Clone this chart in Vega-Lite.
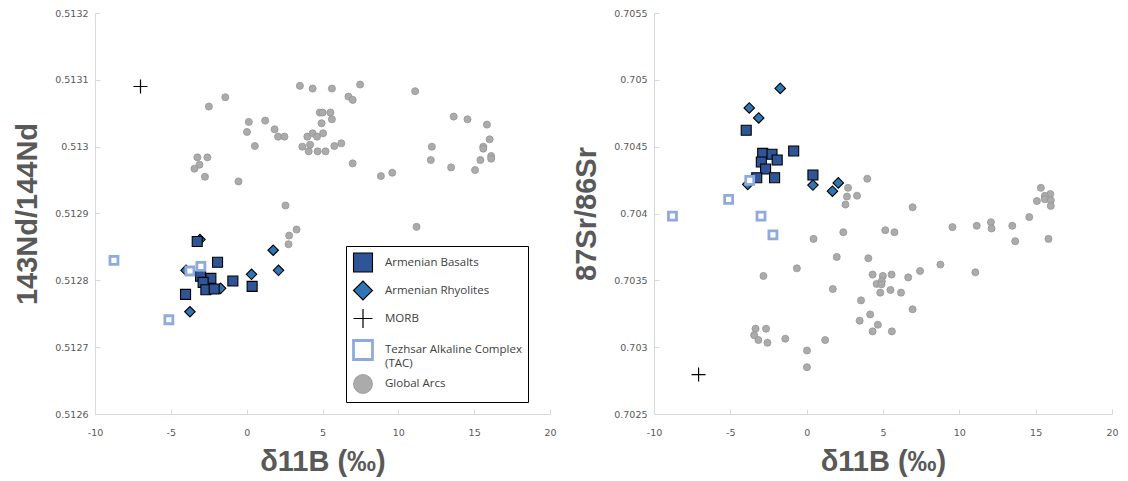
{
  "$schema": "https://vega.github.io/schema/vega-lite/v6.json",
  "padding": {"left": 13, "top": 8, "right": 5, "bottom": 5},
  "background": "white",
  "spacing": 104,
  "bounds": "flush",
  "resolve": {
    "scale": {"shape": "independent", "fill": "independent", "stroke": "independent", "strokeWidth": "independent", "size": "independent"},
    "legend": {"shape": "independent", "fill": "independent", "stroke": "independent", "strokeWidth": "independent", "size": "independent"}
  },
  "config": {
    "view": {"stroke": null},
    "axis": {
      "grid": false,
      "domainColor": "#D9D9D9",
      "domainWidth": 1,
      "tickColor": "#D9D9D9",
      "tickSize": -5,
      "labelFont": "DejaVu Sans",
      "labelFontSize": 9.5,
      "labelColor": "#595959",
      "labelPadding": 12,
      "labelFlush": false,
      "titleFont": "Liberation Sans",
      "titleFontWeight": "bold",
      "titleFontSize": 29,
      "titleColor": "#595959"
    },
    "axisX": {"labelPadding": 18, "titlePadding": 11}
  },
  "datasets": {
    "nd": [
      {"g": "Global Arcs", "b": -2.49, "r": 0.51306},
      {"g": "Global Arcs", "b": -1.41, "r": 0.513074},
      {"g": "Global Arcs", "b": 3.51, "r": 0.513091},
      {"g": "Global Arcs", "b": 4.35, "r": 0.513087},
      {"g": "Global Arcs", "b": 5.62, "r": 0.513087},
      {"g": "Global Arcs", "b": 7.48, "r": 0.513093},
      {"g": "Global Arcs", "b": 6.71, "r": 0.513075},
      {"g": "Global Arcs", "b": 6.99, "r": 0.51307},
      {"g": "Global Arcs", "b": 11.11, "r": 0.513083},
      {"g": "Global Arcs", "b": 0.14, "r": 0.513037},
      {"g": "Global Arcs", "b": 1.22, "r": 0.513039},
      {"g": "Global Arcs", "b": 0.02, "r": 0.513022},
      {"g": "Global Arcs", "b": 1.84, "r": 0.513026},
      {"g": "Global Arcs", "b": 2.07, "r": 0.513015},
      {"g": "Global Arcs", "b": 2.49, "r": 0.513015},
      {"g": "Global Arcs", "b": 0.54, "r": 0.513001},
      {"g": "Global Arcs", "b": 4.82, "r": 0.513051},
      {"g": "Global Arcs", "b": 5.01, "r": 0.513051},
      {"g": "Global Arcs", "b": 5.52, "r": 0.513051},
      {"g": "Global Arcs", "b": 5.62, "r": 0.513041},
      {"g": "Global Arcs", "b": 4.94, "r": 0.513035},
      {"g": "Global Arcs", "b": 4.0, "r": 0.513015},
      {"g": "Global Arcs", "b": 4.35, "r": 0.51302},
      {"g": "Global Arcs", "b": 4.64, "r": 0.513015},
      {"g": "Global Arcs", "b": 5.04, "r": 0.51302},
      {"g": "Global Arcs", "b": 4.18, "r": 0.513003},
      {"g": "Global Arcs", "b": 3.67, "r": 0.5130},
      {"g": "Global Arcs", "b": 4.09, "r": 0.512993},
      {"g": "Global Arcs", "b": 4.68, "r": 0.512993},
      {"g": "Global Arcs", "b": 5.2, "r": 0.512993},
      {"g": "Global Arcs", "b": 5.78, "r": 0.513001},
      {"g": "Global Arcs", "b": 6.24, "r": 0.513005},
      {"g": "Global Arcs", "b": 6.99, "r": 0.512975},
      {"g": "Global Arcs", "b": 8.85, "r": 0.512956},
      {"g": "Global Arcs", "b": 9.6, "r": 0.512961},
      {"g": "Global Arcs", "b": 12.21, "r": 0.5130},
      {"g": "Global Arcs", "b": 12.14, "r": 0.51298},
      {"g": "Global Arcs", "b": 13.48, "r": 0.512969},
      {"g": "Global Arcs", "b": 13.65, "r": 0.513045},
      {"g": "Global Arcs", "b": 14.56, "r": 0.513041},
      {"g": "Global Arcs", "b": 15.84, "r": 0.513033},
      {"g": "Global Arcs", "b": 16.02, "r": 0.513011},
      {"g": "Global Arcs", "b": 15.6, "r": 0.5130},
      {"g": "Global Arcs", "b": 15.6, "r": 0.512997},
      {"g": "Global Arcs", "b": 15.41, "r": 0.51298},
      {"g": "Global Arcs", "b": 15.06, "r": 0.512965},
      {"g": "Global Arcs", "b": 16.12, "r": 0.512986},
      {"g": "Global Arcs", "b": 16.12, "r": 0.512982},
      {"g": "Global Arcs", "b": -3.25, "r": 0.512984},
      {"g": "Global Arcs", "b": -2.59, "r": 0.512984},
      {"g": "Global Arcs", "b": -3.11, "r": 0.512973},
      {"g": "Global Arcs", "b": -3.44, "r": 0.512967},
      {"g": "Global Arcs", "b": -2.75, "r": 0.512955},
      {"g": "Global Arcs", "b": -0.54, "r": 0.512948},
      {"g": "Global Arcs", "b": 2.56, "r": 0.512912},
      {"g": "Global Arcs", "b": 3.29, "r": 0.512876},
      {"g": "Global Arcs", "b": 2.8, "r": 0.512867},
      {"g": "Global Arcs", "b": 2.76, "r": 0.512854},
      {"g": "Global Arcs", "b": 11.2, "r": 0.51288},
      {"g": "Armenian Rhyolites", "b": -3.08, "r": 0.512861},
      {"g": "Armenian Rhyolites", "b": 1.75, "r": 0.512845},
      {"g": "Armenian Rhyolites", "b": 2.1, "r": 0.512815},
      {"g": "Armenian Rhyolites", "b": 0.32, "r": 0.512809},
      {"g": "Armenian Rhyolites", "b": -1.72, "r": 0.512788},
      {"g": "Armenian Rhyolites", "b": -3.74, "r": 0.512753},
      {"g": "Armenian Rhyolites", "b": -4.0, "r": 0.512815},
      {"g": "Armenian Basalts", "b": -3.26, "r": 0.512858},
      {"g": "Armenian Basalts", "b": -1.92, "r": 0.512827},
      {"g": "Armenian Basalts", "b": -3.04, "r": 0.512806},
      {"g": "Armenian Basalts", "b": -2.36, "r": 0.512803},
      {"g": "Armenian Basalts", "b": -2.87, "r": 0.512797},
      {"g": "Armenian Basalts", "b": -2.69, "r": 0.512786},
      {"g": "Armenian Basalts", "b": -2.14, "r": 0.512787},
      {"g": "Armenian Basalts", "b": -0.91, "r": 0.512799},
      {"g": "Armenian Basalts", "b": 0.36, "r": 0.512791},
      {"g": "Armenian Basalts", "b": -4.03, "r": 0.512779},
      {"g": "Tezhsar Alkaline Complex (TAC)", "b": -8.75, "r": 0.51283},
      {"g": "Tezhsar Alkaline Complex (TAC)", "b": -5.13, "r": 0.512741},
      {"g": "Tezhsar Alkaline Complex (TAC)", "b": -3.74, "r": 0.512814},
      {"g": "Tezhsar Alkaline Complex (TAC)", "b": -3.02, "r": 0.512821},
      {"g": "MORB", "b": -7.0, "r": 0.51309}
    ],
    "sr": [
      {"g": "Global Arcs", "b": 3.97, "r": 0.70426},
      {"g": "Global Arcs", "b": 2.71, "r": 0.704192},
      {"g": "Global Arcs", "b": 2.64, "r": 0.704127},
      {"g": "Global Arcs", "b": 2.54, "r": 0.704067},
      {"g": "Global Arcs", "b": 3.3, "r": 0.704133},
      {"g": "Global Arcs", "b": 6.94, "r": 0.704047},
      {"g": "Global Arcs", "b": 15.34, "r": 0.704192},
      {"g": "Global Arcs", "b": 15.96, "r": 0.704145},
      {"g": "Global Arcs", "b": 15.6, "r": 0.704132},
      {"g": "Global Arcs", "b": 15.6, "r": 0.704107},
      {"g": "Global Arcs", "b": 15.08, "r": 0.704093},
      {"g": "Global Arcs", "b": 15.99, "r": 0.704098},
      {"g": "Global Arcs", "b": 15.99, "r": 0.704057},
      {"g": "Global Arcs", "b": 14.58, "r": 0.703973},
      {"g": "Global Arcs", "b": 9.55, "r": 0.703898},
      {"g": "Global Arcs", "b": 11.14, "r": 0.703908},
      {"g": "Global Arcs", "b": 12.07, "r": 0.703935},
      {"g": "Global Arcs", "b": 12.11, "r": 0.703888},
      {"g": "Global Arcs", "b": 13.47, "r": 0.703908},
      {"g": "Global Arcs", "b": 13.66, "r": 0.703793},
      {"g": "Global Arcs", "b": 15.84, "r": 0.70381},
      {"g": "Global Arcs", "b": 5.15, "r": 0.703875},
      {"g": "Global Arcs", "b": 5.75, "r": 0.70386},
      {"g": "Global Arcs", "b": 2.4, "r": 0.70386},
      {"g": "Global Arcs", "b": 0.45, "r": 0.70381},
      {"g": "Global Arcs", "b": 1.97, "r": 0.703675},
      {"g": "Global Arcs", "b": 4.04, "r": 0.703665},
      {"g": "Global Arcs", "b": -0.64, "r": 0.70359},
      {"g": "Global Arcs", "b": -2.83, "r": 0.703533},
      {"g": "Global Arcs", "b": 4.32, "r": 0.703543},
      {"g": "Global Arcs", "b": 4.99, "r": 0.703533},
      {"g": "Global Arcs", "b": 5.56, "r": 0.703543},
      {"g": "Global Arcs", "b": 7.43, "r": 0.70357},
      {"g": "Global Arcs", "b": 8.76, "r": 0.703618},
      {"g": "Global Arcs", "b": 11.05, "r": 0.70356},
      {"g": "Global Arcs", "b": 6.65, "r": 0.703522},
      {"g": "Global Arcs", "b": 4.58, "r": 0.703473},
      {"g": "Global Arcs", "b": 4.92, "r": 0.703493},
      {"g": "Global Arcs", "b": 4.9, "r": 0.70347},
      {"g": "Global Arcs", "b": 1.71, "r": 0.703435},
      {"g": "Global Arcs", "b": 5.49, "r": 0.703428},
      {"g": "Global Arcs", "b": 4.82, "r": 0.703408},
      {"g": "Global Arcs", "b": 6.18, "r": 0.703408},
      {"g": "Global Arcs", "b": 3.56, "r": 0.70335},
      {"g": "Global Arcs", "b": 6.94, "r": 0.703283},
      {"g": "Global Arcs", "b": 4.16, "r": 0.703245},
      {"g": "Global Arcs", "b": 3.47, "r": 0.703198},
      {"g": "Global Arcs", "b": 4.66, "r": 0.703168},
      {"g": "Global Arcs", "b": 4.32, "r": 0.703118},
      {"g": "Global Arcs", "b": 5.58, "r": 0.703118},
      {"g": "Global Arcs", "b": -3.35, "r": 0.703138},
      {"g": "Global Arcs", "b": -2.66, "r": 0.703138},
      {"g": "Global Arcs", "b": -3.44, "r": 0.70309},
      {"g": "Global Arcs", "b": -3.16, "r": 0.703053},
      {"g": "Global Arcs", "b": -2.57, "r": 0.703033},
      {"g": "Global Arcs", "b": -1.4, "r": 0.703063},
      {"g": "Global Arcs", "b": 1.21, "r": 0.703053},
      {"g": "Global Arcs", "b": 0.02, "r": 0.702975},
      {"g": "Global Arcs", "b": 0.02, "r": 0.70285},
      {"g": "Armenian Rhyolites", "b": -1.73, "r": 0.704936},
      {"g": "Armenian Rhyolites", "b": -3.76, "r": 0.70479},
      {"g": "Armenian Rhyolites", "b": -3.14, "r": 0.704715},
      {"g": "Armenian Rhyolites", "b": 0.41, "r": 0.704213},
      {"g": "Armenian Rhyolites", "b": 2.07, "r": 0.704229},
      {"g": "Armenian Rhyolites", "b": 1.69, "r": 0.704167},
      {"g": "Armenian Rhyolites", "b": -3.86, "r": 0.704218},
      {"g": "Armenian Basalts", "b": -3.96, "r": 0.704623},
      {"g": "Armenian Basalts", "b": -2.88, "r": 0.70445},
      {"g": "Armenian Basalts", "b": -2.27, "r": 0.704443},
      {"g": "Armenian Basalts", "b": -2.97, "r": 0.704385},
      {"g": "Armenian Basalts", "b": -1.93, "r": 0.7044},
      {"g": "Armenian Basalts", "b": -2.69, "r": 0.704333},
      {"g": "Armenian Basalts", "b": -3.27, "r": 0.704268},
      {"g": "Armenian Basalts", "b": -2.1, "r": 0.704268},
      {"g": "Armenian Basalts", "b": -0.85, "r": 0.704468},
      {"g": "Armenian Basalts", "b": 0.41, "r": 0.704288},
      {"g": "Tezhsar Alkaline Complex (TAC)", "b": -3.73, "r": 0.704248},
      {"g": "Tezhsar Alkaline Complex (TAC)", "b": -5.11, "r": 0.704106},
      {"g": "Tezhsar Alkaline Complex (TAC)", "b": -8.79, "r": 0.70398},
      {"g": "Tezhsar Alkaline Complex (TAC)", "b": -2.99, "r": 0.70398},
      {"g": "Tezhsar Alkaline Complex (TAC)", "b": -2.21, "r": 0.70384},
      {"g": "MORB", "b": -7.08, "r": 0.702795}
    ]
  },
  "hconcat": [
    {
      "width": 455,
      "height": 401,
      "data": {"name": "nd"},
      "mark": {"type": "point", "filled": true, "opacity": 1},
      "encoding": {
        "x": {
          "field": "b", "type": "quantitative",
          "scale": {"domain": [-10, 20], "nice": false, "zero": false},
          "axis": {"values": [-10, -5, 0, 5, 10, 15, 20], "labelExpr": "'' + datum.value", "title": "δ11B (‰)"}
        },
        "y": {
          "field": "r", "type": "quantitative",
          "scale": {"domain": [0.5126, 0.5132], "nice": false, "zero": false},
          "axis": {"values": [0.5126, 0.5127, 0.5128, 0.5129, 0.513, 0.5131, 0.5132], "format": ".4~f", "title": "143Nd/144Nd", "titlePadding": 12}
        },
        "shape": {
          "field": "g", "type": "nominal",
          "scale": {"domain": ["Armenian Basalts", "Armenian Rhyolites", "MORB", "Tezhsar Alkaline Complex (TAC)", "Global Arcs"], "range": ["square", "diamond", "M-1,0L1,0M0,-1L0,1", "square", "circle"]},
          "legend": {
            "orient": "none",
            "legendX": 251,
            "legendY": 233,
            "title": null,
            "strokeColor": "#000000",
            "fillColor": "#FFFFFF",
            "padding": 6,
            "symbolSize": 360,
            "labelFont": "Open Sans",
            "labelFontSize": 11.5,
            "labelColor": "#404040",
            "labelOffset": 11,
            "labelLimit": 300,
            "rowPadding": 3,
            "labelExpr": "datum.label == 'Tezhsar Alkaline Complex (TAC)' ? ['Tezhsar Alkaline Complex', '(TAC)'] : datum.label"
          }
        },
        "fill": {
          "field": "g", "type": "nominal",
          "scale": {"domain": ["Armenian Basalts", "Armenian Rhyolites", "MORB", "Tezhsar Alkaline Complex (TAC)", "Global Arcs"], "range": ["#2F5597", "#2E75B6", "#000000", "#FFFFFF", "#ABABAB"]}
        },
        "stroke": {
          "field": "g", "type": "nominal",
          "scale": {"domain": ["Armenian Basalts", "Armenian Rhyolites", "MORB", "Tezhsar Alkaline Complex (TAC)", "Global Arcs"], "range": ["#000000", "#000000", "#000000", "#8FAADC", "#959595"]}
        },
        "strokeWidth": {
          "field": "g", "type": "nominal",
          "scale": {"type": "ordinal", "domain": ["Armenian Basalts", "Armenian Rhyolites", "MORB", "Tezhsar Alkaline Complex (TAC)", "Global Arcs"], "range": [1.1, 1.1, 1.2, 2.8, 0.8]}
        },
        "size": {
          "field": "g", "type": "nominal",
          "scale": {"type": "ordinal", "domain": ["Global Arcs", "Armenian Basalts", "Armenian Rhyolites", "MORB", "Tezhsar Alkaline Complex (TAC)"], "range": [50, 100, 110, 196, 64]},
          "legend": null
        }
      }
    },
    {
      "width": 458,
      "height": 401,
      "data": {"name": "sr"},
      "mark": {"type": "point", "filled": true, "opacity": 1},
      "encoding": {
        "x": {
          "field": "b", "type": "quantitative",
          "scale": {"domain": [-10, 20], "nice": false, "zero": false},
          "axis": {"values": [-10, -5, 0, 5, 10, 15, 20], "labelExpr": "'' + datum.value", "title": "δ11B (‰)"}
        },
        "y": {
          "field": "r", "type": "quantitative",
          "scale": {"domain": [0.7025, 0.7055], "nice": false, "zero": false},
          "axis": {"values": [0.7025, 0.703, 0.7035, 0.704, 0.7045, 0.705, 0.7055], "format": ".4~f", "title": "87Sr/86Sr", "titlePadding": 12}
        },
        "shape": {
          "field": "g", "type": "nominal",
          "scale": {"domain": ["Armenian Basalts", "Armenian Rhyolites", "MORB", "Tezhsar Alkaline Complex (TAC)", "Global Arcs"], "range": ["square", "diamond", "M-1,0L1,0M0,-1L0,1", "square", "circle"]},
          "legend": null
        },
        "fill": {
          "field": "g", "type": "nominal",
          "scale": {"domain": ["Armenian Basalts", "Armenian Rhyolites", "MORB", "Tezhsar Alkaline Complex (TAC)", "Global Arcs"], "range": ["#2F5597", "#2E75B6", "#000000", "#FFFFFF", "#ABABAB"]},
          "legend": null
        },
        "stroke": {
          "field": "g", "type": "nominal",
          "scale": {"domain": ["Armenian Basalts", "Armenian Rhyolites", "MORB", "Tezhsar Alkaline Complex (TAC)", "Global Arcs"], "range": ["#000000", "#000000", "#000000", "#8FAADC", "#959595"]},
          "legend": null
        },
        "strokeWidth": {
          "field": "g", "type": "nominal",
          "scale": {"type": "ordinal", "domain": ["Armenian Basalts", "Armenian Rhyolites", "MORB", "Tezhsar Alkaline Complex (TAC)", "Global Arcs"], "range": [1.1, 1.1, 1.2, 2.8, 0.8]},
          "legend": null
        },
        "size": {
          "field": "g", "type": "nominal",
          "scale": {"type": "ordinal", "domain": ["Global Arcs", "Armenian Basalts", "Armenian Rhyolites", "MORB", "Tezhsar Alkaline Complex (TAC)"], "range": [50, 100, 110, 196, 64]},
          "legend": null
        }
      }
    }
  ]
}
